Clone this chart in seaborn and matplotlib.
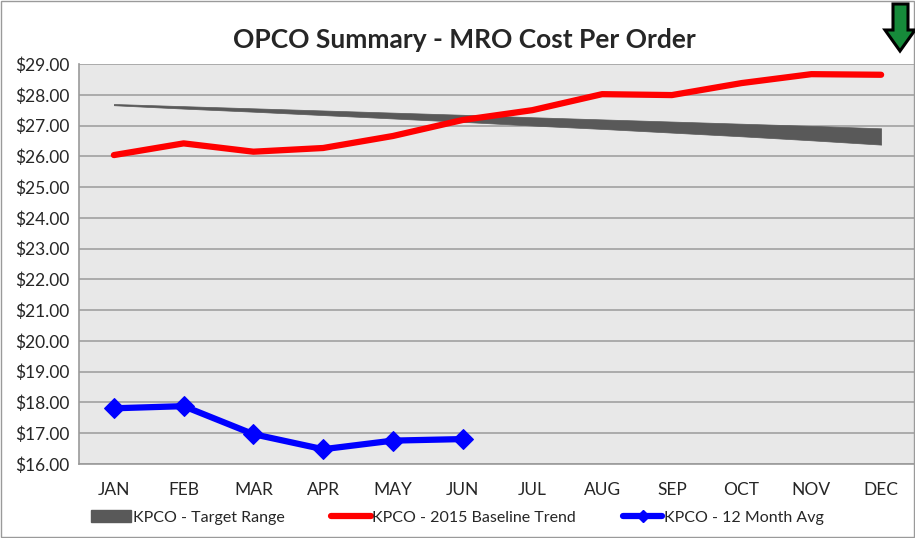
import numpy as np
import pandas as pd
import seaborn as sns
import matplotlib.pyplot as plt
from matplotlib.patches import Polygon, Rectangle
from matplotlib.lines import Line2D
from matplotlib.patches import Patch

months = ['JAN', 'FEB', 'MAR', 'APR', 'MAY', 'JUN', 'JUL', 'AUG', 'SEP', 'OCT', 'NOV', 'DEC']
baseline_2015 = [26.04, 26.42, 26.15, 26.27, 26.66, 27.18, 27.50, 28.02, 27.99, 28.38, 28.67, 28.65]
avg_12mo = [17.81, 17.88, 16.97, 16.48, 16.76, 16.81]
target_high = [27.70, 27.63, 27.56, 27.49, 27.42, 27.35, 27.27, 27.20, 27.13, 27.06, 26.99, 26.91]
target_low = [27.66, 27.55, 27.45, 27.34, 27.23, 27.12, 27.00, 26.89, 26.77, 26.65, 26.52, 26.38]
y_ticks = [16, 17, 18, 19, 20, 21, 22, 23, 24, 25, 26, 27, 28, 29]

sns.set_style('white')
plt.rcParams['font.family'] = ['Lato', 'DejaVu Sans']

fig = plt.figure(figsize=(9.15, 5.38), dpi=100)
ax = fig.add_axes([79 / 915, 1 - 464 / 538, 837 / 915, 400 / 538])
ax.set_facecolor('#e8e8e8')

x = np.arange(len(months))
ax.fill_between(x, target_low, target_high, color='#595959', lw=0.5, zorder=2)

base_df = pd.DataFrame({'x': x, 'v': baseline_2015})
avg_df = pd.DataFrame({'x': x[:len(avg_12mo)], 'v': avg_12mo})
sns.lineplot(data=base_df, x='x', y='v', ax=ax, color='#ff0000', lw=4.5,
             solid_capstyle='round', zorder=3)
sns.lineplot(data=avg_df, x='x', y='v', ax=ax, color='#0000ff', lw=4.5,
             marker='D', markersize=10, markeredgecolor='#0000ff', zorder=4)

ax.set_xlim(-0.5, 11.5)
ax.set_ylim(16, 29)
ax.set_yticks(y_ticks)
ax.set_yticklabels([f'${v:.2f}' for v in y_ticks], fontsize=12.5)
ax.set_xticks(x)
ax.set_xticklabels(months, fontsize=12.5)
ax.set_xticks(np.arange(-0.5, 12, 1), minor=True)
ax.tick_params(axis='x', which='major', length=0, pad=13)
ax.tick_params(axis='x', which='minor', length=5, color='#9a9a9a', direction='out')
ax.tick_params(axis='y', length=4, color='#9a9a9a', direction='out', pad=3)
ax.yaxis.grid(True, color='#a0a0a0', lw=1.2)
ax.set_axisbelow(True)
ax.set_xlabel('')
ax.set_ylabel('')
for side in ['top', 'right']:
    ax.spines[side].set_visible(False)
for side in ['left', 'bottom']:
    ax.spines[side].set_color('#9a9a9a')
    ax.spines[side].set_linewidth(1.2)

fig.text(0.508, 0.925, 'OPCO Summary - MRO Cost Per Order', ha='center', va='center',
         fontsize=19, fontweight='bold')

handles = [Patch(color='#595959'),
           Line2D([], [], color='#ff0000', lw=4.5),
           Line2D([], [], color='#0000ff', lw=4.5, marker='D', markersize=6)]
labels = ['KPCO - Target Range', 'KPCO - 2015 Baseline Trend', 'KPCO - 12 Month Avg']
fig.legend(handles, labels, loc='center', bbox_to_anchor=(0.5, 0.038), ncol=3,
           frameon=False, fontsize=11.5, handlelength=2.5, handletextpad=0.12,
           columnspacing=2.9)

# chart frame
fig.patches.append(Rectangle((0.001, 0.001), 0.998, 0.997, transform=fig.transFigure,
                             fill=False, edgecolor='#9a9a9a', lw=1))

# green down arrow
arrow = [(893, 4), (908, 4), (908, 30), (915, 30), (900, 51), (885, 30), (893, 30)]
arrow_fig = [(px / 915, 1 - py / 538) for px, py in arrow]
fig.patches.append(Polygon(arrow_fig, closed=True, transform=fig.transFigure,
                           facecolor='#168a3a', edgecolor='black', lw=2.2))

fig.savefig('out.png', dpi=100)
